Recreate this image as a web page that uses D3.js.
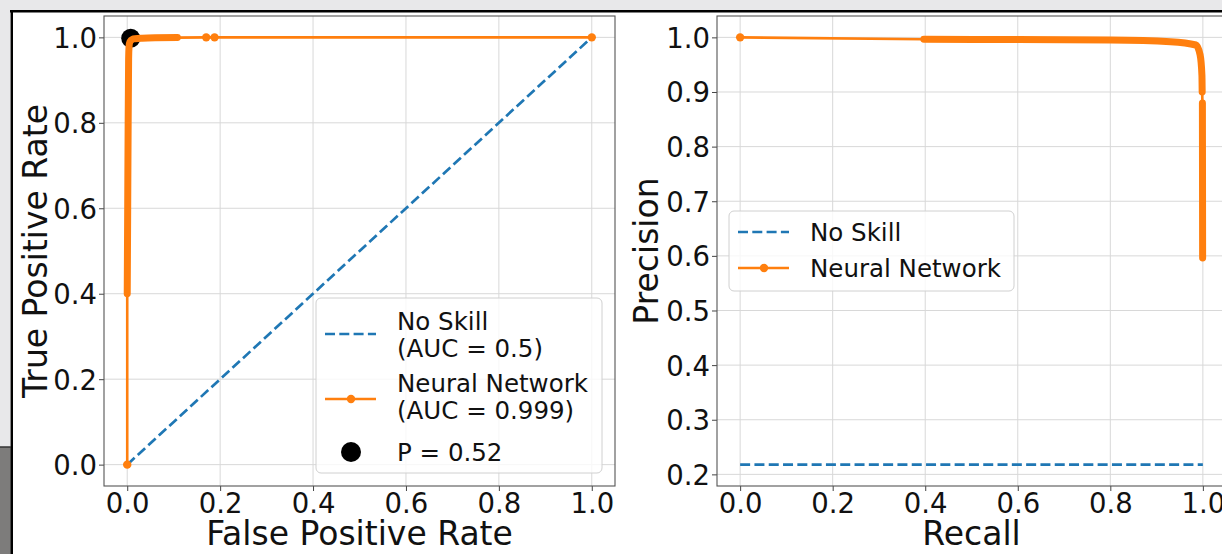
<!DOCTYPE html>
<html><head><meta charset="utf-8">
<script src="https://cdn.jsdelivr.net/npm/d3@7"></script>
<style>html,body{margin:0;padding:0;overflow:hidden;background:#e8e8ea}svg{display:block}</style>
</head><body><svg id="c" width="1222" height="554"></svg>
<script>
// ---------- data ----------
// ROC panel
const noSkillFpr = [0.0, 1.0];
const noSkillTpr = [0.0, 1.0];
const rocFpr = [0.000, 0.000, 0.001, 0.002, 0.003, 0.004, 0.006, 0.012, 0.030, 0.060, 0.108, 0.170, 0.188, 1.000];
const rocTpr = [0.000, 0.400, 0.600, 0.800, 0.950, 0.980, 0.990, 0.996, 0.998, 0.999, 0.9995, 1.000, 1.000, 1.000];
// stretch where the per-threshold markers are packed into a solid band
const rocBandFpr = [0.000, 0.001, 0.002, 0.003, 0.004, 0.006, 0.012, 0.030, 0.060, 0.108];
const rocBandTpr = [0.400, 0.600, 0.800, 0.950, 0.980, 0.990, 0.996, 0.998, 0.999, 0.9995];
// isolated markers
const rocMarkFpr = [0.000, 0.170, 0.188, 1.000];
const rocMarkTpr = [0.000, 1.000, 1.000, 1.000];
const bestFpr = [0.0075];
const bestTpr = [0.998];
const rocLegend = ["No Skill\n(AUC = 0.5)", "Neural Network\n(AUC = 0.999)", "P = 0.52"];

// PR panel
const noSkillPrecision = 0.2178;
const noSkillRecall = [0.0, 1.0];
const prRecall    = [0.000, 0.397, 0.600, 0.800, 0.930, 0.985, 0.994, 0.998, 0.9985, 0.9990, 0.9995];
const prPrecision = [1.000, 0.9965, 0.996, 0.9952, 0.992, 0.986, 0.968, 0.930, 0.900, 0.880, 0.596];
const prBand1Recall    = [0.397, 0.600, 0.800, 0.930, 0.985, 0.994, 0.998, 0.9985];
const prBand1Precision = [0.9965, 0.996, 0.9952, 0.992, 0.986, 0.968, 0.930, 0.900];
const prBand2Recall    = [0.9990, 0.9995];
const prBand2Precision = [0.880, 0.596];
const prMarkRecall = [0.000];
const prMarkPrecision = [1.000];
const prLegend = ["No Skill", "Neural Network"];

// ticks
const unitTicks = [0.0, 0.2, 0.4, 0.6, 0.8, 1.0];
const unitTickLabels = ["0.0", "0.2", "0.4", "0.6", "0.8", "1.0"];
const precTicks = [0.2, 0.3, 0.4, 0.5, 0.6, 0.7, 0.8, 0.9, 1.0];
const precTickLabels = ["0.2", "0.3", "0.4", "0.5", "0.6", "0.7", "0.8", "0.9", "1.0"];

// ---------- drawing ----------
const BLUE = "#1f77b4", ORANGE = "#ff7f0e";
const FONT = "DejaVu Sans";
const svg = d3.select("#c");

// screenshot surroundings
svg.append("rect").attr("width", 1222).attr("height", 554).attr("fill", "#e8e8ea");
svg.append("rect").attr("x", 0).attr("y", 447).attr("width", 12).attr("height", 107).attr("fill", "#7d7c7b");
svg.append("rect").attr("x", 12).attr("y", 11).attr("width", 1210).attr("height", 543).attr("fill", "#ffffff");
svg.append("line").attr("x1", 10).attr("x2", 1222).attr("y1", 11.3).attr("y2", 11.3).attr("stroke", "#000").attr("stroke-width", 2.6);
svg.append("line").attr("x1", 11.8).attr("x2", 11.8).attr("y1", 10).attr("y2", 554).attr("stroke", "#000").attr("stroke-width", 2.4);
svg.append("line").attr("x1", 0).attr("x2", 11).attr("y1", 447).attr("y2", 447).attr("stroke", "#333").attr("stroke-width", 1.5);

function zip(a, b) { return a.map((v, i) => [v, b[i]]); }
function padDomain(vals) {
  const [lo, hi] = d3.extent(vals); const m = (hi - lo) * 0.05; return [lo - m, hi + m];
}

function panel(opt) {
  const g = svg.append("g");
  const x = d3.scaleLinear().domain(opt.xDomain).range([opt.left, opt.right]);
  const y = d3.scaleLinear().domain(opt.yDomain).range([opt.bottom, opt.top]);
  const clipId = "clip" + opt.id;
  svg.append("clipPath").attr("id", clipId).append("rect")
    .attr("x", opt.left).attr("y", opt.top).attr("width", opt.right - opt.left).attr("height", opt.bottom - opt.top);

  // grid
  const grid = g.append("g").attr("stroke", "#d8d8d8").attr("stroke-width", 1);
  opt.xTicks.forEach(t => grid.append("line").attr("x1", x(t)).attr("x2", x(t)).attr("y1", opt.top).attr("y2", opt.bottom));
  opt.yTicks.forEach(t => grid.append("line").attr("y1", y(t)).attr("y2", y(t)).attr("x1", opt.left).attr("x2", opt.right));

  // axes
  const ax = g.append("g").attr("transform", `translate(0,${opt.bottom})`)
    .call(d3.axisBottom(x).tickValues(opt.xTicks).tickFormat((d, i) => opt.xTickLabels[i]).tickSize(5).tickPadding(2).tickSizeOuter(0));
  const ay = g.append("g").attr("transform", `translate(${opt.left},0)`)
    .call(d3.axisLeft(y).tickValues(opt.yTicks).tickFormat((d, i) => opt.yTickLabels[i]).tickSize(5).tickPadding(2).tickSizeOuter(0));
  [ax, ay].forEach(a => {
    a.select(".domain").remove();
    a.selectAll("line").attr("stroke", "#444").attr("stroke-width", 1);
    a.selectAll("text").attr("font-family", FONT).attr("font-size", 27.5).attr("fill", "#111");
  });
  ay.selectAll("text").attr("dy", "0.36em");

  // spines
  g.append("rect").attr("x", opt.left).attr("y", opt.top).attr("width", opt.right - opt.left).attr("height", opt.bottom - opt.top)
    .attr("fill", "none").attr("stroke", "#555").attr("stroke-width", 1.1);

  // labels
  g.append("text").attr("x", (opt.left + opt.right) / 2).attr("y", opt.xLabelY).attr("text-anchor", "middle")
    .attr("font-family", FONT).attr("font-size", 33).attr("fill", "#111").text(opt.xLabel);
  g.append("text").attr("transform", `translate(${opt.yLabelX},${(opt.top + opt.bottom) / 2}) rotate(-90)`).attr("text-anchor", "middle")
    .attr("font-family", FONT).attr("font-size", 33).attr("fill", "#111").text(opt.yLabel);

  const plot = g.append("g").attr("clip-path", `url(#${clipId})`);
  return { g, plot, x, y };
}

const line = (x, y) => d3.line().x(d => x(d[0])).y(d => y(d[1]));

// ---- ROC panel ----
const roc = panel({
  id: "roc", left: 104, right: 615, top: 16, bottom: 486,
  xDomain: padDomain(rocFpr.concat(noSkillFpr)), yDomain: padDomain(rocTpr.concat(noSkillTpr)),
  xTicks: unitTicks, xTickLabels: unitTickLabels, yTicks: unitTicks, yTickLabels: unitTickLabels,
  xLabel: "False Positive Rate", yLabel: "True Positive Rate", xLabelY: 545, yLabelX: 47
});
{
  const { g, plot, x, y } = roc;
  plot.append("path").datum(zip(noSkillFpr, noSkillTpr)).attr("d", line(x, y))
    .attr("fill", "none").attr("stroke", BLUE).attr("stroke-width", 2.7).attr("stroke-dasharray", "10,4.3");
  g.selectAll(".best").data(zip(bestFpr, bestTpr)).join("circle").attr("class", "best")
    .attr("cx", d => x(d[0])).attr("cy", d => y(d[1])).attr("r", 9.5).attr("fill", "#000");
  plot.append("path").datum(zip(rocFpr, rocTpr)).attr("d", line(x, y))
    .attr("fill", "none").attr("stroke", ORANGE).attr("stroke-width", 2.6);
  g.append("path").datum(zip(rocBandFpr, rocBandTpr)).attr("d", line(x, y).curve(d3.curveMonotoneY))
    .attr("fill", "none").attr("stroke", ORANGE).attr("stroke-width", 7).attr("stroke-linecap", "round").attr("stroke-linejoin", "round");
  g.selectAll(".mk").data(zip(rocMarkFpr, rocMarkTpr)).join("circle").attr("class", "mk")
    .attr("cx", d => x(d[0])).attr("cy", d => y(d[1])).attr("r", 4.2).attr("fill", ORANGE);

  // legend
  const L = g.append("g").attr("transform", "translate(316,298)");
  L.append("rect").attr("width", 286).attr("height", 175).attr("rx", 5)
    .attr("fill", "#fff").attr("fill-opacity", 0.8).attr("stroke", "#d0d0d0").attr("stroke-width", 1);
  const txt = (s, yy) => L.append("text").attr("x", 81).attr("y", yy).attr("dy", "0.36em")
    .attr("font-family", FONT).attr("font-size", 24.5).attr("fill", "#111").text(s);
  const l0 = rocLegend[0].split("\n"), l1 = rocLegend[1].split("\n");
  txt(l0[0], 23); txt(l0[1], 50);
  txt(l1[0], 85); txt(l1[1], 112);
  txt(rocLegend[2], 154);
  L.append("line").attr("x1", 9).attr("x2", 60).attr("y1", 36).attr("y2", 36)
    .attr("stroke", BLUE).attr("stroke-width", 2.7).attr("stroke-dasharray", "10,4.3");
  L.append("line").attr("x1", 9).attr("x2", 60).attr("y1", 101).attr("y2", 101)
    .attr("stroke", ORANGE).attr("stroke-width", 2.6);
  L.append("circle").attr("cx", 35).attr("cy", 101).attr("r", 4.2).attr("fill", ORANGE);
  L.append("circle").attr("cx", 35).attr("cy", 154).attr("r", 10).attr("fill", "#000");
}

// ---- PR panel ----
const pr = panel({
  id: "pr", left: 717, right: 1226, top: 16, bottom: 486,
  xDomain: padDomain(prRecall.concat(noSkillRecall)), yDomain: padDomain(prPrecision.concat([noSkillPrecision])),
  xTicks: unitTicks, xTickLabels: unitTickLabels, yTicks: precTicks, yTickLabels: precTickLabels,
  xLabel: "Recall", yLabel: "Precision", xLabelY: 545, yLabelX: 658
});
{
  const { g, plot, x, y } = pr;
  plot.append("path").datum(noSkillRecall.map(r => [r, noSkillPrecision])).attr("d", line(x, y))
    .attr("fill", "none").attr("stroke", BLUE).attr("stroke-width", 2.7).attr("stroke-dasharray", "10,4.3");
  plot.append("path").datum(zip(prRecall, prPrecision)).attr("d", line(x, y))
    .attr("fill", "none").attr("stroke", ORANGE).attr("stroke-width", 2.6);
  [[prBand1Recall, prBand1Precision], [prBand2Recall, prBand2Precision]].forEach(([r, p]) => {
    g.append("path").datum(zip(r, p)).attr("d", line(x, y).curve(d3.curveMonotoneX))
      .attr("fill", "none").attr("stroke", ORANGE).attr("stroke-width", 7).attr("stroke-linecap", "round").attr("stroke-linejoin", "round");
  });
  g.selectAll(".mk").data(zip(prMarkRecall, prMarkPrecision)).join("circle").attr("class", "mk")
    .attr("cx", d => x(d[0])).attr("cy", d => y(d[1])).attr("r", 4.2).attr("fill", ORANGE);

  const L = g.append("g").attr("transform", "translate(729,211)");
  L.append("rect").attr("width", 285).attr("height", 80).attr("rx", 5)
    .attr("fill", "#fff").attr("fill-opacity", 0.8).attr("stroke", "#d0d0d0").attr("stroke-width", 1);
  L.append("text").attr("x", 81).attr("y", 21).attr("dy", "0.36em").attr("font-family", FONT).attr("font-size", 24.5).attr("fill", "#111").text(prLegend[0]);
  L.append("text").attr("x", 81).attr("y", 57).attr("dy", "0.36em").attr("font-family", FONT).attr("font-size", 24.5).attr("fill", "#111").text(prLegend[1]);
  L.append("line").attr("x1", 9).attr("x2", 60).attr("y1", 21).attr("y2", 21)
    .attr("stroke", BLUE).attr("stroke-width", 2.7).attr("stroke-dasharray", "10,4.3");
  L.append("line").attr("x1", 9).attr("x2", 60).attr("y1", 57).attr("y2", 57)
    .attr("stroke", ORANGE).attr("stroke-width", 2.6);
  L.append("circle").attr("cx", 35).attr("cy", 57).attr("r", 4.2).attr("fill", ORANGE);
}
</script></body></html>
